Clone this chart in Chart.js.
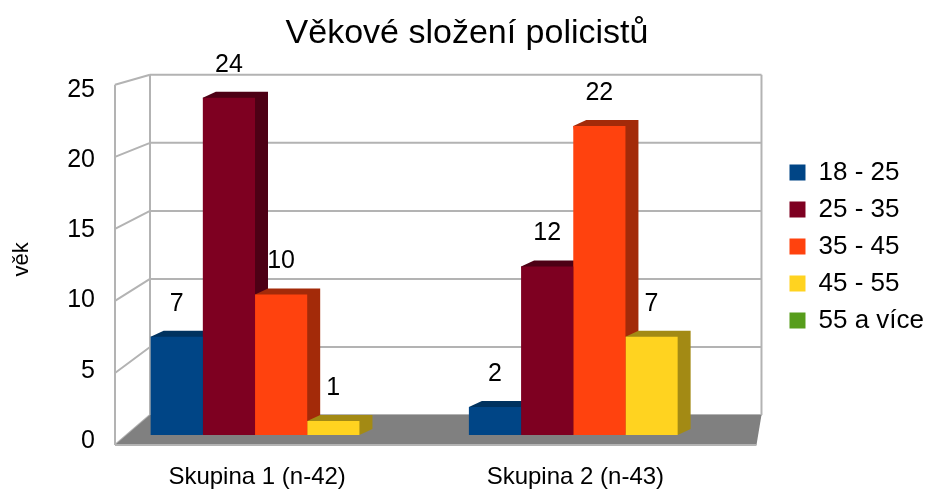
<!DOCTYPE html>
<html>
<head>
<meta charset="utf-8">
<script src="https://cdn.jsdelivr.net/npm/chart.js@4"></script>
<style>
  html, body { margin: 0; padding: 0; background: #fff; }
  #wrap { width: 926px; height: 495px; }
</style>
</head>
<body>
<div id="wrap"><canvas id="chart"></canvas></div>
<script>
// data
const groups = ["Skupina 1 (n-42)", "Skupina 2 (n-43)"];
const ageBands = ["18 - 25", "25 - 35", "35 - 45", "45 - 55", "55 a více"];
const band18 = [7, 2];
const band25 = [24, 12];
const band35 = [10, 22];
const band45 = [1, 7];
const band55 = [null, null];
const yTicks = [0, 5, 10, 15, 20, 25];

const fronts = ["#004586", "#7e0021", "#ff420e", "#ffd320", "#579d1c"];
const sides = ["#00325f", "#4d0015", "#a32a09", "#a38a14", "#3a6a13"];

Chart.defaults.font.family = "'Liberation Sans', Arial, sans-serif";
Chart.defaults.color = "#000";

// walls, floor and bar sides to fake the 3D look
const DX = 13, DY = 6;
const box3d = {
  id: "box3d",
  beforeDatasetsDraw(chart) {
    const ctx = chart.ctx;
    const a = chart.chartArea;
    const y = chart.scales.y;
    const fx = a.left - 7, bx0 = a.left + 28, bx1 = a.right + 3;
    const rel = v => (a.bottom - y.getPixelForValue(v)) / (a.bottom - a.top);
    const frontY = v => (a.bottom + 10) + rel(v) * ((a.top + 1) - (a.bottom + 10));
    const backY = v => (a.bottom - 20) + rel(v) * ((a.top - 9) - (a.bottom - 20));

    ctx.save();
    ctx.strokeStyle = "#b3b3b3";
    ctx.lineWidth = 2;
    ctx.beginPath();
    yTicks.forEach(v => {
      ctx.moveTo(bx0, backY(v));
      ctx.lineTo(bx1, backY(v));
      ctx.moveTo(fx, frontY(v));
      ctx.lineTo(bx0, backY(v));
    });
    ctx.moveTo(bx0, backY(25)); ctx.lineTo(bx0, backY(0));
    ctx.moveTo(bx1, backY(25)); ctx.lineTo(bx1, backY(0));
    ctx.moveTo(fx, frontY(25)); ctx.lineTo(fx, frontY(0));
    ctx.stroke();

    // floor
    ctx.fillStyle = "#808080";
    ctx.beginPath();
    ctx.moveTo(fx, frontY(0));
    ctx.lineTo(bx0, backY(0));
    ctx.lineTo(bx1, backY(0));
    ctx.lineTo(a.right - 2, frontY(0));
    ctx.closePath();
    ctx.fill();
    ctx.beginPath();
    ctx.moveTo(fx, frontY(0));
    ctx.lineTo(a.right - 2, frontY(0));
    ctx.stroke();

    // side and top faces, left to right
    for (let j = 0; j < groups.length; j++) {
      chart.data.datasets.forEach((ds, i) => {
        if (ds.data[j] == null) return;
        const bar = chart.getDatasetMeta(i).data[j];
        const p = bar.getProps(["x", "y", "base", "width"], true);
        const l = p.x - p.width / 2, r = p.x + p.width / 2;
        ctx.fillStyle = sides[i];
        ctx.beginPath();
        ctx.moveTo(l, p.y);
        ctx.lineTo(l + DX, p.y - DY);
        ctx.lineTo(r + DX, p.y - DY);
        ctx.lineTo(r + DX, p.base - DY);
        ctx.lineTo(r, p.base);
        ctx.closePath();
        ctx.fill();
      });
    }
    ctx.restore();
  },
  afterDatasetsDraw(chart) {
    const ctx = chart.ctx;
    ctx.save();
    ctx.font = "25px 'Liberation Sans', Arial, sans-serif";
    ctx.fillStyle = "#000";
    ctx.textAlign = "center";
    ctx.textBaseline = "middle";
    chart.data.datasets.forEach((ds, i) => {
      chart.getDatasetMeta(i).data.forEach((bar, j) => {
        if (ds.data[j] == null) return;
        ctx.fillText(String(ds.data[j]), bar.x, bar.y - 33);
      });
    });
    ctx.restore();
  }
};

const series = [band18, band25, band35, band45, band55];

new Chart(document.getElementById("chart"), {
  type: "bar",
  data: {
    labels: groups,
    datasets: series.map((vals, i) => ({
      label: ageBands[i],
      data: vals,
      backgroundColor: fronts[i],
      borderWidth: 0,
      categoryPercentage: 0.82,
      barPercentage: 1.0
    }))
  },
  options: {
    responsive: true,
    maintainAspectRatio: false,
    animation: false,
    layout: { padding: { left: 0, right: -8, top: 0, bottom: 2 } },
    plugins: {
      title: {
        display: true,
        text: "Věkové složení policistů",
        font: { size: 34, weight: "normal" },
        color: "#000",
        padding: { top: 13, bottom: 30 }
      },
      legend: {
        position: "right",
        labels: {
          boxWidth: 16,
          boxHeight: 16,
          padding: 11,
          font: { size: 26 },
          color: "#000"
        }
      },
      tooltip: { enabled: false }
    },
    scales: {
      x: {
        afterFit(s) { s.height = 58; },
        grid: { display: false, drawTicks: false },
        border: { display: false },
        ticks: { font: { size: 24 }, padding: 28, labelOffset: -24 }
      },
      y: {
        min: 0,
        max: 25,
        afterFit(s) { s.width = 122; },
        grid: { display: false, drawTicks: false },
        border: { display: false },
        ticks: { stepSize: 5, font: { size: 25 }, padding: 27, labelOffset: 6 },
        title: { display: true, text: "věk", font: { size: 22 }, padding: { top: 9, bottom: 0 } }
      },
      spacer: {
        position: "right",
        display: true,
        afterFit(s) { s.width = 20; },
        grid: { display: false, drawTicks: false },
        border: { display: false },
        ticks: { display: false }
      }
    }
  },
  plugins: [box3d]
});
</script>
</body>
</html>
